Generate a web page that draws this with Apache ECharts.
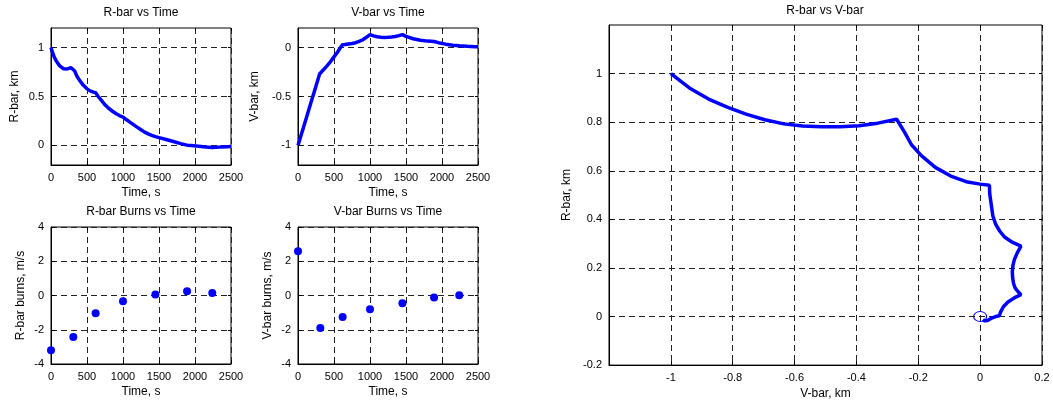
<!DOCTYPE html>
<html>
<head>
<meta charset="utf-8">
<script src="https://cdn.jsdelivr.net/npm/echarts@6/dist/echarts.min.js"></script>
<style>
html,body{margin:0;padding:0;background:#fff;}
#chart{width:1053px;height:405px;}
</style>
</head>
<body>
<div id="chart"></div>
<script>
// ---- data ----
const timeS  = [0,25,50,75,100,125,150,175,200,225,250,275,300,
                330,360,400,450,500,550,590,620,
                650,700,750,800,850,900,950,1000,
                1050,1100,1150,1200,1250,1300,1350,1400,1450,
                1500,1600,1700,1800,1890,
                1950,2050,2150,2240,2350,2450,2500];
const rbarKm = [1,0.94,0.895,0.862,0.833,0.81,0.793,0.784,0.781,0.781,0.785,0.796,0.812,
                0.76,0.707,0.662,0.614,0.578,0.555,0.545,0.54,
                0.505,0.46,0.415,0.38,0.352,0.326,0.305,0.29,
                0.262,0.236,0.21,0.185,0.16,0.136,0.118,0.103,0.09,
                0.08,0.06,0.04,0.018,0.003,
                0.0,-0.008,-0.016,-0.02,-0.017,-0.013,-0.012];
const vbarKm = [-1,-0.939,-0.878,-0.818,-0.757,-0.696,-0.635,-0.574,-0.513,-0.453,-0.392,-0.331,-0.27,
                -0.245,-0.222,-0.19,-0.145,-0.095,-0.045,0.0,0.03,
                0.031,0.036,0.041,0.05,0.063,0.08,0.105,0.132,
                0.12,0.111,0.106,0.104,0.105,0.108,0.113,0.122,0.132,
                0.115,0.09,0.075,0.066,0.062,
                0.05,0.035,0.024,0.018,0.013,0.009,0.008];
const burnTimes = [0,310,620,1000,1450,1890,2240];
const rbarBurns = [-3.2,-2.43,-1.03,-0.33,0.06,0.25,0.14];
const vbarBurns = [2.58,-1.9,-1.26,-0.8,-0.45,-0.12,0.01];
const target = [[0,0]];

const timeTicks  = [0,500,1000,1500,2000,2500];
const rbarTicks  = [0,0.5,1];
const vbarTicks  = [-1,-0.5,0];
const burnTicks  = [-4,-2,0,2,4];
const trajXTicks = [-1,-0.8,-0.6,-0.4,-0.2,0,0.2];
const trajYTicks = [-0.2,0,0.2,0.4,0.6,0.8,1];

// ---- styling ----
const FONT = '"Liberation Sans", Arial, Helvetica, sans-serif';
const BLUE = '#0000ff';

function grid(left, top, width, height) {
  return {left, top, width, height, show: true, borderColor: '#000', borderWidth: 1,
          backgroundColor: '#fff', containLabel: false};
}
function axis(gridIndex, min, max, ticks, name, nameGap) {
  return {
    type: 'value', gridIndex, min, max, name, nameGap,
    nameLocation: 'middle',
    nameTextStyle: {color: '#000', fontSize: 12, fontFamily: FONT},
    axisLine: {show: true, onZero: false, lineStyle: {color: '#000', width: 1}},
    axisTick: {show: true, inside: true, length: 4, customValues: ticks, lineStyle: {color: '#000'}},
    axisLabel: {show: true, color: '#000', fontSize: 11, fontFamily: FONT, customValues: ticks, margin: 7,
                formatter: (v) => String(v)},
    splitLine: {show: true, lineStyle: {color: '#222', width: 1, type: [6, 4]}}
  };
}
// mirror axis: only inside tick marks on the opposite (top / right) edge
function mirror(gridIndex, min, max, ticks, position) {
  return {
    type: 'value', gridIndex, min, max, position,
    axisLine: {show: false, onZero: false},
    axisTick: {show: true, inside: true, length: 3, customValues: ticks, lineStyle: {color: '#000'}},
    axisLabel: {show: false, customValues: ticks},
    splitLine: {show: false}
  };
}
function title(text, cx, cy) {
  return {text, left: cx, top: cy, padding: 0, textAlign: 'center', textVerticalAlign: 'middle',
          textStyle: {color: '#000', fontSize: 12, fontWeight: 'normal', fontFamily: FONT}};
}
const lineStyle = {color: BLUE, width: 3.5};
const dotStyle = {color: BLUE, opacity: 1};

const option = {
  animation: false,
  backgroundColor: '#fff',
  title: [
    title('R-bar vs Time', 141, 13),
    title('V-bar vs Time', 388, 13),
    title('R-bar Burns vs Time', 141, 212),
    title('V-bar Burns vs Time', 388, 212),
    title('R-bar vs V-bar', 825, 11)
  ],
  grid: [
    grid(51, 28, 180, 137),
    grid(298, 28, 180, 137),
    grid(51, 227, 180, 137),
    grid(298, 227, 180, 137),
    grid(609, 25, 433, 341)
  ],
  xAxis: [
    axis(0, 0, 2500, timeTicks, 'Time, s', 22),
    axis(1, 0, 2500, timeTicks, 'Time, s', 22),
    axis(2, 0, 2500, timeTicks, 'Time, s', 22),
    axis(3, 0, 2500, timeTicks, 'Time, s', 22),
    axis(4, -1.2, 0.2, trajXTicks, 'V-bar, km', 22),
    mirror(0, 0, 2500, timeTicks, 'top'),
    mirror(1, 0, 2500, timeTicks, 'top'),
    mirror(2, 0, 2500, timeTicks, 'top'),
    mirror(3, 0, 2500, timeTicks, 'top'),
    mirror(4, -1.2, 0.2, trajXTicks, 'top')
  ],
  yAxis: [
    axis(0, -0.2, 1.2, rbarTicks, 'R-bar, km', 30),
    axis(1, -1.2, 0.2, vbarTicks, 'V-bar, km', 37),
    axis(2, -4, 4, burnTicks, 'R-bar burns, m/s', 24),
    axis(3, -4, 4, burnTicks, 'V-bar burns, m/s', 24),
    axis(4, -0.2, 1.2, trajYTicks, 'R-bar, km', 36),
    mirror(0, -0.2, 1.2, rbarTicks, 'right'),
    mirror(1, -1.2, 0.2, vbarTicks, 'right'),
    mirror(2, -4, 4, burnTicks, 'right'),
    mirror(3, -4, 4, burnTicks, 'right'),
    mirror(4, -0.2, 1.2, trajYTicks, 'right')
  ],
  series: [
    {type: 'line', xAxisIndex: 0, yAxisIndex: 0, showSymbol: false, lineStyle,
     data: timeS.map((t, i) => [t, rbarKm[i]])},
    {type: 'line', xAxisIndex: 1, yAxisIndex: 1, showSymbol: false, lineStyle,
     data: timeS.map((t, i) => [t, vbarKm[i]])},
    {type: 'scatter', xAxisIndex: 2, yAxisIndex: 2, symbolSize: 8, itemStyle: dotStyle,
     data: burnTimes.map((t, i) => [t, rbarBurns[i]])},
    {type: 'scatter', xAxisIndex: 3, yAxisIndex: 3, symbolSize: 8, itemStyle: dotStyle,
     data: burnTimes.map((t, i) => [t, vbarBurns[i]])},
    {type: 'line', xAxisIndex: 4, yAxisIndex: 4, showSymbol: false, lineStyle,
     data: vbarKm.map((v, i) => [v, rbarKm[i]])},
    {type: 'scatter', xAxisIndex: 4, yAxisIndex: 4, symbol: 'circle', symbolSize: [13, 10],
     itemStyle: {color: 'rgba(0,0,0,0)', borderColor: BLUE, borderWidth: 1, opacity: 1}, data: target}
  ]
};

const chart = echarts.init(document.getElementById('chart'), null, {renderer: 'canvas'});
chart.setOption(option);
</script>
</body>
</html>
